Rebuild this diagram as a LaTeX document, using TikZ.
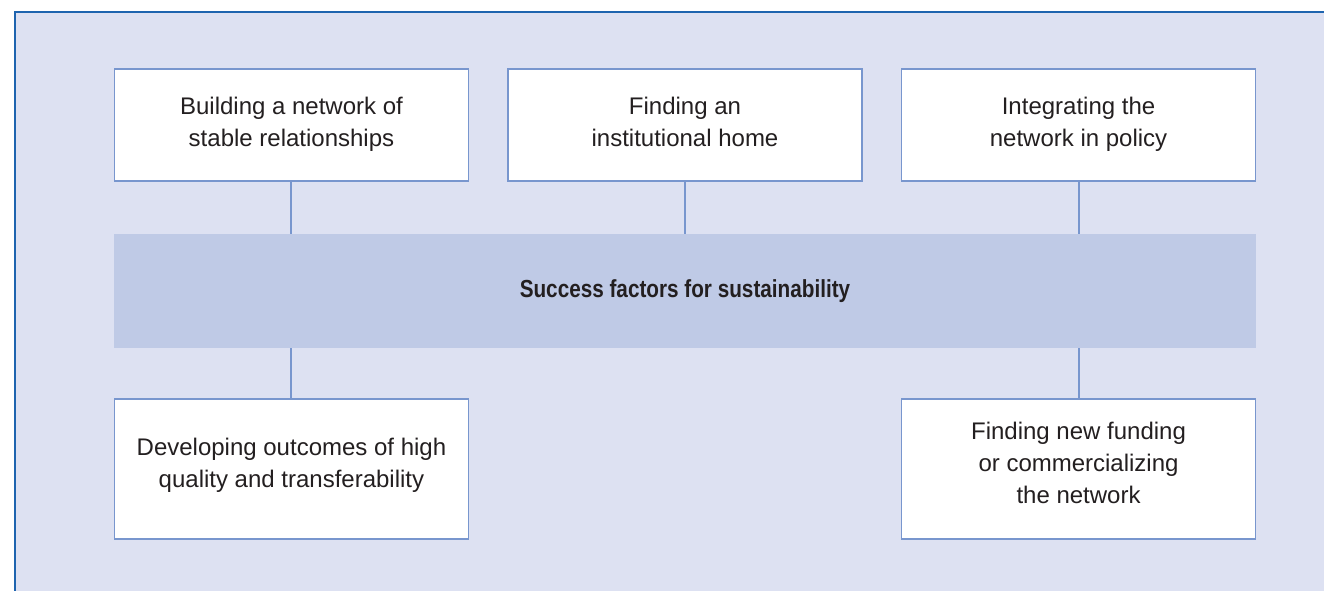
\documentclass[tikz,border=0pt]{standalone}
\usepackage{fontspec}
\setmainfont{Liberation Sans}
\newfontfamily\bandfont[FakeStretch=0.84]{Liberation Sans Bold}
\usetikzlibrary{positioning}
\definecolor{sfpanel}{HTML}{DDE1F2}
\definecolor{sfedge}{HTML}{1E64AF}
\definecolor{sfband}{HTML}{BFCAE6}
\definecolor{sfline}{HTML}{7896CE}
\definecolor{sftext}{HTML}{231F20}

\begin{document}
\begin{tikzpicture}[
  every node/.style={text=sftext},
  F/.style={draw=sfline,line width=1.1pt,fill=white,
            minimum width=265.5pt,minimum height=84pt,
            align=center,inner sep=0pt,text depth=5pt,
            font=\fontsize{18}{24}\selectfont},
  FB/.style={F,minimum height=105pt,text depth=10pt},
  S/.style={fill=sfband,minimum width=856.5pt,minimum height=85.5pt,
            inner sep=0pt,font=\bandfont\fontsize{18.5}{22}\selectfont},
  ln/.style={draw=sfline,line width=1.5pt}
]
\useasboundingbox (0,0) rectangle (993pt,-443.25pt);
% panel
\fill[sfpanel] (11.25pt,-9pt) rectangle (993pt,-443.25pt);
\draw[sfedge,line width=1.6pt] (11.25pt,-443.25pt) -- (11.25pt,-9pt) -- (993pt,-9pt);

\node[S] (sf) at (513.75pt,-218.25pt) {Success factors for sustainability};

\node[F,above right=39pt and 0pt of sf.north west] (net)
     {Building a network of\\stable relationships};
\node[F,above=39pt of sf.north] (home)
     {Finding an\\institutional home};
\node[F,above left=39pt and 0pt of sf.north east] (pol)
     {Integrating the\\network in policy};
\node[FB,below right=37.5pt and 0pt of sf.south west] (out)
     {Developing outcomes of high\\quality and transferability};
\node[FB,below left=37.5pt and 0pt of sf.south east] (fund)
     {Finding new funding\\or commercializing\\the network};

\foreach \n in {net,home,pol}
  \draw[ln] (\n.south) -- (\n.south |- sf.north);
\foreach \n in {out,fund}
  \draw[ln] (\n.north) -- (\n.north |- sf.south);
\end{tikzpicture}
\end{document}
